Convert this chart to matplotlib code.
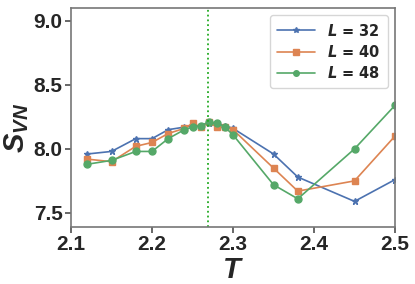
import matplotlib
matplotlib.use('Agg')
import matplotlib.pyplot as plt
from matplotlib.font_manager import FontProperties
import seaborn as sns

# temperatures and entropies
T = [2.12, 2.15, 2.18, 2.20, 2.22, 2.24, 2.25, 2.26, 2.27, 2.28, 2.29, 2.30,
     2.35, 2.38, 2.45, 2.50]
S_32 = [7.96, 7.98, 8.08, 8.08, 8.15, 8.17, 8.18, 8.18, 8.20, 8.20, 8.18, 8.16,
        7.96, 7.78, 7.59, 7.76]
S_40 = [7.92, 7.90, 8.02, 8.05, 8.12, 8.16, 8.20, 8.17, 8.21, 8.17, 8.17, 8.15,
        7.85, 7.67, 7.75, 8.10]
S_48 = [7.88, 7.91, 7.98, 7.98, 8.08, 8.15, 8.17, 8.18, 8.21, 8.20, 8.17, 8.11,
        7.72, 7.61, 8.00, 8.34]
Tc = 2.269

sns.set_theme(style='ticks')
plt.rcParams['font.family'] = ['Liberation Sans', 'DejaVu Sans']
plt.rcParams['mathtext.fontset'] = 'custom'
plt.rcParams['mathtext.it'] = 'Liberation Sans:italic:bold'
plt.rcParams['mathtext.rm'] = 'Liberation Sans:bold'
plt.rcParams['mathtext.bf'] = 'Liberation Sans:bold'
colors = sns.color_palette('deep')

fig = plt.figure(figsize=(4.15, 2.84), dpi=100)
ax = fig.add_axes([71 / 415, 1 - 227 / 284, 324 / 415, 219 / 284])

ax.plot(T, S_32, '-*', color=colors[0], lw=1.2, ms=5, label=r'$\boldsymbol{L}$ = 32')
ax.plot(T, S_40, '-s', color=colors[1], lw=1.2, ms=5, label=r'$\boldsymbol{L}$ = 40')
ax.plot(T, S_48, '-o', color=colors[2], lw=1.2, ms=5, label=r'$\boldsymbol{L}$ = 48')
ax.axvline(Tc, color='#22aa22', ls=':', lw=1.3)

ax.set_xlim(2.1, 2.5)
ax.set_ylim(7.39, 9.1)
ax.set_xticks([2.1, 2.2, 2.3, 2.4, 2.5])
ax.set_yticks([7.5, 8.0, 8.5, 9.0])
ax.tick_params(labelsize=15, length=4, color='#555555', pad=2)
for lab in ax.get_xticklabels() + ax.get_yticklabels():
    lab.set_fontweight('bold')
for sp in ax.spines.values():
    sp.set_color('#777777')
    sp.set_linewidth(1.2)

ax.set_xlabel(r'$T$', fontsize=21, labelpad=1)
ax.set_ylabel(r'$S_{VN}$', fontsize=21)
ax.yaxis.set_label_coords(-0.125, 0.45)

leg_font = FontProperties(family='DejaVu Sans', weight='bold', size=10.5,
                          math_fontfamily='dejavusans')
ax.legend(loc='upper right', prop=leg_font, handlelength=2.6, borderpad=0.5,
          labelspacing=0.35, markerscale=0.8)

fig.savefig('out.png', dpi=100)
